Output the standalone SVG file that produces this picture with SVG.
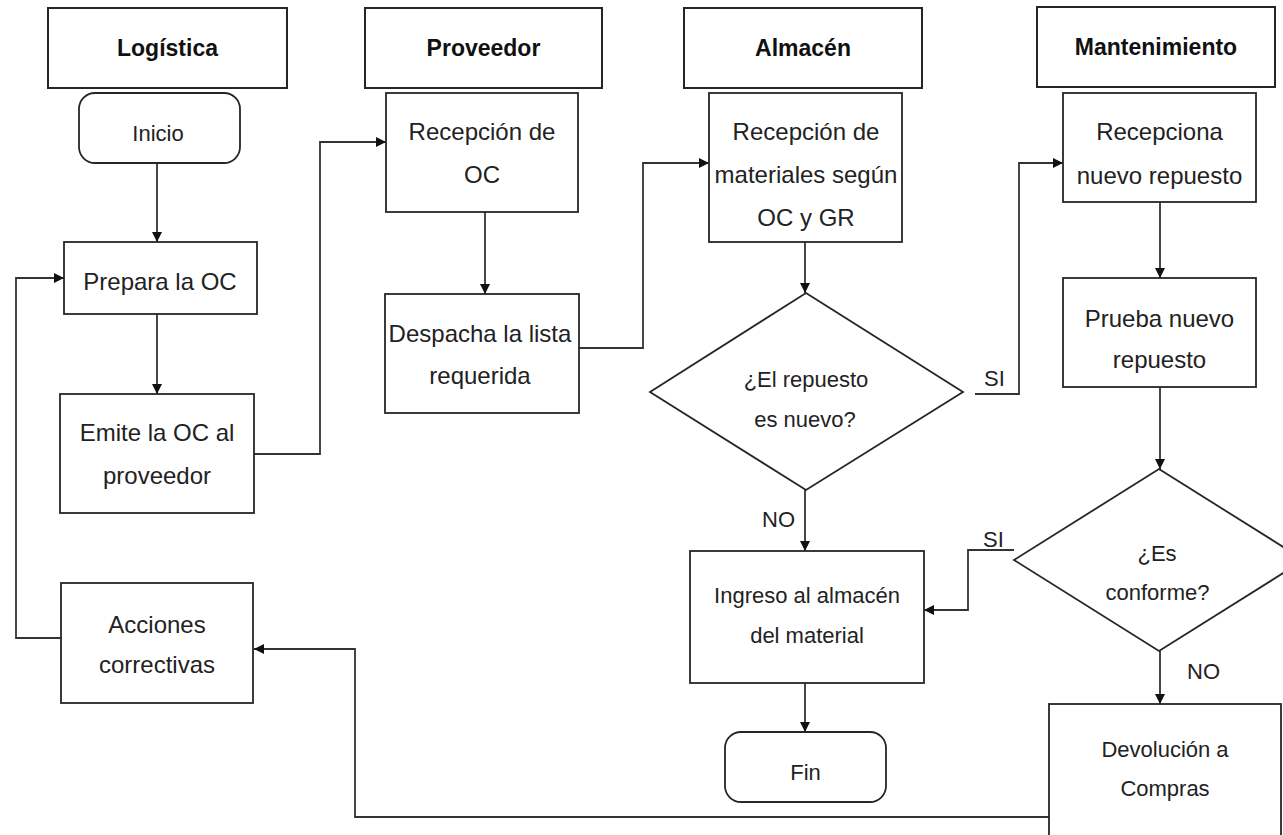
<svg xmlns="http://www.w3.org/2000/svg" width="1283" height="835" viewBox="0 0 1283 835">
  <style>
    .box { fill: #ffffff; stroke: #262626; stroke-width: 1.8; }
    .lane { fill: #ffffff; stroke: #262626; stroke-width: 2; }
    .edge { fill: none; stroke: #333333; stroke-width: 1.8; }
    .hdr { font-family: "Liberation Sans", Arial, sans-serif; font-weight: bold; font-size: 23px; fill: #111111; text-anchor: middle; }
    .txt { font-family: "Liberation Sans", Arial, sans-serif; font-size: 24px; fill: #222222; text-anchor: middle; }
    .sm { font-family: "Liberation Sans", Arial, sans-serif; font-size: 22px; fill: #222222; text-anchor: middle; }
    .lbl { font-family: "Liberation Sans", Arial, sans-serif; font-size: 22px; fill: #222222; }
  </style>
  <defs>
    <marker id="arrow" viewBox="0 0 10 10" refX="10" refY="5" markerWidth="10" markerHeight="10" markerUnits="userSpaceOnUse" orient="auto">
      <path d="M0,0 L10,5 L0,10 Z" fill="#111111"/>
    </marker>
  </defs>
  <rect width="1283" height="835" fill="#ffffff"/>

  <!-- lane headers -->
  <g id="lane-logistica">
    <rect class="lane" x="48" y="8" width="239" height="80"/>
    <text class="hdr" x="167.5" y="56">Logística</text>
  </g>
  <g id="lane-proveedor">
    <rect class="lane" x="365" y="8" width="237" height="80"/>
    <text class="hdr" x="483.5" y="56">Proveedor</text>
  </g>
  <g id="lane-almacen">
    <rect class="lane" x="684" y="8" width="238" height="80"/>
    <text class="hdr" x="803" y="56">Almacén</text>
  </g>
  <g id="lane-mantenimiento">
    <rect class="lane" x="1037" y="7" width="238" height="80"/>
    <text class="hdr" x="1156" y="55">Mantenimiento</text>
  </g>

  <!-- connectors -->
  <g id="connectors">
    <path class="edge" d="M157,163 L157,242" marker-end="url(#arrow)"/>
    <path class="edge" d="M157,314 L157,394" marker-end="url(#arrow)"/>
    <path class="edge" d="M254,454 L320,454 L320,142 L386,142" marker-end="url(#arrow)"/>
    <path class="edge" d="M485,212 L485,294" marker-end="url(#arrow)"/>
    <path class="edge" d="M579,348 L643,348 L643,163 L709,163" marker-end="url(#arrow)"/>
    <path class="edge" d="M805,242 L805,293" marker-end="url(#arrow)"/>
    <path class="edge" d="M805,490 L805,551" marker-end="url(#arrow)"/>
    <path class="edge" d="M975,394 L1019,394 L1019,163 L1063,163" marker-end="url(#arrow)"/>
    <path class="edge" d="M1160,202 L1160,278" marker-end="url(#arrow)"/>
    <path class="edge" d="M1160,387 L1160,469" marker-end="url(#arrow)"/>
    <path class="edge" d="M1014,550 L968,550 L968,610 L924,610" marker-end="url(#arrow)"/>
    <path class="edge" d="M1160,651 L1160,704" marker-end="url(#arrow)"/>
    <path class="edge" d="M805,683 L805,732" marker-end="url(#arrow)"/>
    <path class="edge" d="M1049,817 L355,817 L355,649 L254,649" marker-end="url(#arrow)"/>
    <path class="edge" d="M61,638 L16,638 L16,278 L64,278" marker-end="url(#arrow)"/>
    <text class="lbl" x="984" y="386">SI</text>
    <text class="lbl" x="762" y="527">NO</text>
    <text class="lbl" x="983" y="547">SI</text>
    <text class="lbl" x="1187" y="679">NO</text>
  </g>

  <!-- Logística nodes -->
  <g id="inicio">
    <rect class="box" x="79" y="93" width="161" height="70" rx="16"/>
    <text class="sm" x="158" y="141">Inicio</text>
  </g>
  <g id="prepara-oc">
    <rect class="box" x="64" y="242" width="193" height="72"/>
    <text class="txt" x="160" y="290">Prepara la OC</text>
  </g>
  <g id="emite-oc">
    <rect class="box" x="60" y="394" width="194" height="119"/>
    <text class="txt" x="157" y="441">Emite la OC al</text>
    <text class="txt" x="157" y="484">proveedor</text>
  </g>
  <g id="acciones-correctivas">
    <rect class="box" x="61" y="583" width="192" height="120"/>
    <text class="txt" x="157" y="633">Acciones</text>
    <text class="txt" x="157" y="673">correctivas</text>
  </g>

  <!-- Proveedor nodes -->
  <g id="recepcion-oc">
    <rect class="box" x="386" y="93" width="192" height="119"/>
    <text class="txt" x="482" y="140">Recepción de</text>
    <text class="txt" x="482" y="183">OC</text>
  </g>
  <g id="despacha-lista">
    <rect class="box" x="385" y="294" width="194" height="119"/>
    <text class="txt" x="480" y="342">Despacha la lista</text>
    <text class="txt" x="480" y="384">requerida</text>
  </g>

  <!-- Almacén nodes -->
  <g id="recepcion-materiales">
    <rect class="box" x="709" y="93" width="193" height="149"/>
    <text class="txt" x="806" y="140">Recepción de</text>
    <text class="txt" x="806" y="183">materiales según</text>
    <text class="txt" x="806" y="226">OC y GR</text>
  </g>
  <g id="repuesto-nuevo">
    <polygon class="box" points="806,293 963,392 806,490 650,392"/>
    <text class="sm" x="806" y="387">¿El repuesto</text>
    <text class="sm" x="805" y="427">es nuevo?</text>
  </g>
  <g id="ingreso-almacen">
    <rect class="box" x="690" y="551" width="234" height="132"/>
    <text class="sm" x="807" y="603">Ingreso al almacén</text>
    <text class="sm" x="807" y="643">del material</text>
  </g>
  <g id="fin">
    <rect class="box" x="725" y="732" width="161" height="70" rx="16"/>
    <text class="sm" x="805.5" y="780">Fin</text>
  </g>

  <!-- Mantenimiento nodes -->
  <g id="recepciona-repuesto">
    <rect class="box" x="1063" y="93" width="193" height="109"/>
    <text class="txt" x="1159.5" y="140">Recepciona</text>
    <text class="txt" x="1159.5" y="184">nuevo repuesto</text>
  </g>
  <g id="prueba-repuesto">
    <rect class="box" x="1063" y="278" width="193" height="109"/>
    <text class="txt" x="1159.5" y="327">Prueba nuevo</text>
    <text class="txt" x="1159.5" y="368">repuesto</text>
  </g>
  <g id="es-conforme">
    <polygon class="box" points="1159,469 1304,560 1159,651 1014,560"/>
    <text class="sm" x="1157" y="561">¿Es</text>
    <text class="sm" x="1157.5" y="600">conforme?</text>
  </g>
  <g id="devolucion-compras">
    <rect class="box" x="1049" y="704" width="232" height="140"/>
    <text class="sm" x="1165" y="757">Devolución a</text>
    <text class="sm" x="1165" y="796">Compras</text>
  </g>
</svg>
